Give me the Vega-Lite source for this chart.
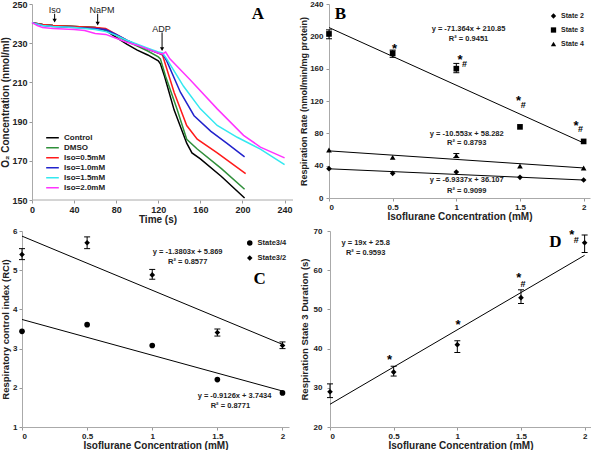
{
"$schema": "https://vega.github.io/schema/vega-lite/v6.json",
"padding": {"left": 0, "top": 0, "right": 0, "bottom": 0},
"background": "white",
"config": {
  "view": {"stroke": null},
  "font": "Liberation Sans",
  "axis": {"grid": false, "domainColor": "#aaa", "tickColor": "#999", "tickSize": 3, "labelFont": "Liberation Sans", "labelFontWeight": "bold", "labelFontSize": 8, "labelColor": "#222", "titleFont": "Liberation Sans", "titleFontWeight": "bold", "titleFontSize": 10, "titleColor": "#222", "labelPadding": 2, "titlePadding": 0, "labelOverlap": false, "labelSeparation": 0},
  "legend": {"labelFont": "Liberation Sans", "labelFontWeight": "bold", "labelColor": "#222", "padding": 0}
},
"datasets": {
  "a": [
    {"s":"Control","t":0,"v":240.5},{"s":"Control","t":10,"v":239.5},{"s":"Control","t":20,"v":239},{"s":"Control","t":40,"v":238.5},{"s":"Control","t":60,"v":238},{"s":"Control","t":70,"v":236.5},{"s":"Control","t":80,"v":233},{"s":"Control","t":90,"v":229.5},{"s":"Control","t":100,"v":226.5},{"s":"Control","t":110,"v":224},{"s":"Control","t":120,"v":221},{"s":"Control","t":122,"v":219.5},{"s":"Control","t":126,"v":213},{"s":"Control","t":135,"v":196},{"s":"Control","t":147,"v":179},{"s":"Control","t":152,"v":174},{"s":"Control","t":160,"v":171},{"s":"Control","t":180,"v":162},{"s":"Control","t":202,"v":151},
    {"s":"DMSO","t":0,"v":240.5},{"s":"DMSO","t":10,"v":239.5},{"s":"DMSO","t":20,"v":239},{"s":"DMSO","t":40,"v":238.5},{"s":"DMSO","t":60,"v":238},{"s":"DMSO","t":70,"v":237},{"s":"DMSO","t":80,"v":234},{"s":"DMSO","t":90,"v":231},{"s":"DMSO","t":100,"v":228.5},{"s":"DMSO","t":110,"v":226},{"s":"DMSO","t":120,"v":223},{"s":"DMSO","t":122,"v":222},{"s":"DMSO","t":127,"v":213},{"s":"DMSO","t":138,"v":196},{"s":"DMSO","t":147,"v":181},{"s":"DMSO","t":157,"v":176},{"s":"DMSO","t":180,"v":166},{"s":"DMSO","t":202,"v":155.5},
    {"s":"Iso=0.5mM","t":0,"v":240.5},{"s":"Iso=0.5mM","t":10,"v":239.5},{"s":"Iso=0.5mM","t":20,"v":239},{"s":"Iso=0.5mM","t":40,"v":238.5},{"s":"Iso=0.5mM","t":60,"v":238},{"s":"Iso=0.5mM","t":70,"v":237.5},{"s":"Iso=0.5mM","t":80,"v":234.5},{"s":"Iso=0.5mM","t":90,"v":231.5},{"s":"Iso=0.5mM","t":100,"v":229},{"s":"Iso=0.5mM","t":110,"v":227},{"s":"Iso=0.5mM","t":120,"v":225},{"s":"Iso=0.5mM","t":124,"v":224},{"s":"Iso=0.5mM","t":135,"v":205},{"s":"Iso=0.5mM","t":147,"v":188},{"s":"Iso=0.5mM","t":157,"v":181},{"s":"Iso=0.5mM","t":176,"v":174},{"s":"Iso=0.5mM","t":203,"v":163.5},
    {"s":"Iso=1.0mM","t":0,"v":240.5},{"s":"Iso=1.0mM","t":10,"v":239},{"s":"Iso=1.0mM","t":20,"v":238.5},{"s":"Iso=1.0mM","t":40,"v":238},{"s":"Iso=1.0mM","t":60,"v":237.5},{"s":"Iso=1.0mM","t":70,"v":237},{"s":"Iso=1.0mM","t":80,"v":234.5},{"s":"Iso=1.0mM","t":90,"v":231.5},{"s":"Iso=1.0mM","t":100,"v":229},{"s":"Iso=1.0mM","t":110,"v":227},{"s":"Iso=1.0mM","t":120,"v":225},{"s":"Iso=1.0mM","t":124,"v":224.5},{"s":"Iso=1.0mM","t":128,"v":221},{"s":"Iso=1.0mM","t":141,"v":205},{"s":"Iso=1.0mM","t":154,"v":193},{"s":"Iso=1.0mM","t":170,"v":185},{"s":"Iso=1.0mM","t":185,"v":179},{"s":"Iso=1.0mM","t":202,"v":172},
    {"s":"Iso=1.5mM","t":0,"v":240.5},{"s":"Iso=1.5mM","t":10,"v":239},{"s":"Iso=1.5mM","t":20,"v":238.5},{"s":"Iso=1.5mM","t":40,"v":238},{"s":"Iso=1.5mM","t":60,"v":237},{"s":"Iso=1.5mM","t":70,"v":236},{"s":"Iso=1.5mM","t":80,"v":234},{"s":"Iso=1.5mM","t":90,"v":231.5},{"s":"Iso=1.5mM","t":100,"v":229.5},{"s":"Iso=1.5mM","t":110,"v":227.5},{"s":"Iso=1.5mM","t":120,"v":225.5},{"s":"Iso=1.5mM","t":124,"v":225},{"s":"Iso=1.5mM","t":128,"v":222},{"s":"Iso=1.5mM","t":144,"v":208},{"s":"Iso=1.5mM","t":160,"v":196.5},{"s":"Iso=1.5mM","t":176,"v":188},{"s":"Iso=1.5mM","t":195,"v":182},{"s":"Iso=1.5mM","t":217,"v":176},{"s":"Iso=1.5mM","t":240,"v":168},
    {"s":"Iso=2.0mM","t":0,"v":240.5},{"s":"Iso=2.0mM","t":5,"v":239},{"s":"Iso=2.0mM","t":10,"v":238},{"s":"Iso=2.0mM","t":20,"v":237.5},{"s":"Iso=2.0mM","t":40,"v":237},{"s":"Iso=2.0mM","t":50,"v":236.5},{"s":"Iso=2.0mM","t":60,"v":235},{"s":"Iso=2.0mM","t":70,"v":234.5},{"s":"Iso=2.0mM","t":80,"v":232.5},{"s":"Iso=2.0mM","t":90,"v":230.5},{"s":"Iso=2.0mM","t":100,"v":229},{"s":"Iso=2.0mM","t":110,"v":227},{"s":"Iso=2.0mM","t":120,"v":225},{"s":"Iso=2.0mM","t":124,"v":224.5},{"s":"Iso=2.0mM","t":127,"v":225.5},{"s":"Iso=2.0mM","t":131,"v":222},{"s":"Iso=2.0mM","t":150,"v":211.5},{"s":"Iso=2.0mM","t":176,"v":196.5},{"s":"Iso=2.0mM","t":201,"v":183},{"s":"Iso=2.0mM","t":217,"v":177},{"s":"Iso=2.0mM","t":240,"v":171.5}
  ],
  "aAxisLine": [{"t0":0,"t1":248,"v":150}],
  "aArrow": [
    {"t":21.5,"v":245,"v2":241.5},
    {"t":62.4,"v":245,"v2":240},
    {"t":123.6,"v":235.5,"v2":227}
  ],
  "aNote": [
    {"t":21.5,"v":247,"label":"Iso"},
    {"t":66.5,"v":247,"label":"NaPM"},
    {"t":123,"v":237.3,"label":"ADP"}
  ],
  "aLetter": [{"t":214.6,"v":245,"label":"A"}],
  "b": [
    {"s":"State 2","x":0,"y":36.3},{"s":"State 2","x":0.5,"y":30.5},{"s":"State 2","x":1,"y":32.2},{"s":"State 2","x":1.5,"y":25.6},{"s":"State 2","x":2,"y":22.3},
    {"s":"State 3","x":0,"y":203},{"s":"State 3","x":0.5,"y":179},{"s":"State 3","x":1,"y":160},{"s":"State 3","x":1.5,"y":88},{"s":"State 3","x":2,"y":70},
    {"s":"State 4","x":0,"y":59.4},{"s":"State 4","x":0.5,"y":50.3},{"s":"State 4","x":1,"y":52.4},{"s":"State 4","x":1.5,"y":39.5},{"s":"State 4","x":2,"y":37.1}
  ],
  "bErr": [
    {"x":0,"lo":197,"hi":208},{"x":0.5,"lo":174,"hi":183},{"x":1,"lo":155,"hi":166.5},{"x":1,"lo":50,"hi":55}
  ],
  "bTrend": [
    {"s":"State 3","x":0,"y":210.85},{"s":"State 3","x":2,"y":68.12},
    {"s":"State 4","x":0,"y":58.28},{"s":"State 4","x":2,"y":37.18},
    {"s":"State 2","x":0,"y":36.11},{"s":"State 2","x":2,"y":22.24}
  ],
  "bEq": [
    {"x":1.096,"y":209,"label":"y = -71.364x + 210.85"},
    {"x":1.096,"y":196.7,"label":"R² = 0.9451"},
    {"x":1.082,"y":79,"label":"y = -10.553x + 58.282"},
    {"x":1.082,"y":67.5,"label":"R² = 0.8793"},
    {"x":1.082,"y":22.5,"label":"y = -6.9337x + 36.107"},
    {"x":1.082,"y":9,"label":"R² = 0.9099"}
  ],
  "bStar": [
    {"x":0.515,"y":184},{"x":1.03,"y":171},{"x":1.488,"y":119.5},{"x":1.94,"y":89.5}
  ],
  "bHash": [
    {"x":1.065,"y":165.5},{"x":1.525,"y":115.5},{"x":1.976,"y":85}
  ],
  "bLetter": [{"x":0.09,"y":227.5,"label":"B"}],
  "c": [
    {"s":"State3/2","x":0,"y":5.40},{"s":"State3/2","x":0.5,"y":5.70},{"s":"State3/2","x":1,"y":4.88},{"s":"State3/2","x":1.5,"y":3.41},{"s":"State3/2","x":2,"y":3.08},
    {"s":"State3/4","x":0,"y":3.44},{"s":"State3/4","x":0.5,"y":3.61},{"s":"State3/4","x":1,"y":3.08},{"s":"State3/4","x":1.5,"y":2.21},{"s":"State3/4","x":2,"y":1.87}
  ],
  "cErr": [
    {"x":0,"lo":5.27,"hi":5.55},{"x":0.5,"lo":5.55,"hi":5.85},{"x":1,"lo":4.77,"hi":5.02},{"x":1.5,"lo":3.32,"hi":3.50},{"x":2,"lo":3.00,"hi":3.17}
  ],
  "cTrend": [
    {"s":"State3/2","x":0,"y":5.869},{"s":"State3/2","x":2,"y":3.108},
    {"s":"State3/4","x":0,"y":3.743},{"s":"State3/4","x":2,"y":1.918}
  ],
  "cEq": [
    {"x":1.272,"y":5.46,"label":"y = -1.3803x + 5.869"},
    {"x":1.272,"y":5.21,"label":"R² = 0.8577"},
    {"x":1.632,"y":1.80,"label":"y = -0.9126x + 3.7434"},
    {"x":1.60,"y":1.53,"label":"R² = 0.8771"}
  ],
  "cLetter": [{"x":1.825,"y":4.77,"label":"C"}],
  "d": [
    {"x":0,"y":29,"lo":27.5,"hi":31},{"x":0.5,"y":34,"lo":33,"hi":35.5},{"x":1,"y":41,"lo":39,"hi":42},{"x":1.5,"y":53,"lo":51.5,"hi":55},{"x":2,"y":67,"lo":64.5,"hi":69}
  ],
  "dTrend": [{"x":0,"y":25.8},{"x":2,"y":63.8}],
  "dEq": [
    {"x":0.28,"y":66.9,"label":"y = 19x + 25.8"},
    {"x":0.28,"y":64.3,"label":"R² = 0.9593"}
  ],
  "dStar": [{"x":0.468,"y":37},{"x":1.006,"y":46},{"x":1.482,"y":58},{"x":1.9,"y":69}],
  "dHash": [{"x":1.515,"y":56.5},{"x":1.935,"y":67.8}],
  "dLetter": [{"x":1.77,"y":67.3,"label":"D"}]
},
"columns": 2,
"align": "none",
"bounds": "full",
"spacing": {"row": 3, "column": 5},
"resolve": {"scale": {"x": "independent", "y": "independent", "color": "independent", "shape": "independent"}, "legend": {"color": "independent", "shape": "independent"}},
"concat": [
    {"width": 271, "height": 196,
     "layer": [
      {"data": {"name": "a"}, "mark": {"type": "line", "strokeWidth": 1.5},
       "encoding": {
         "x": {"field": "t", "type": "quantitative", "scale": {"domain": [-9.5, 248], "nice": false, "zero": false}, "axis": {"values": [0,40,80,120,160,200,240], "tickCount": 20, "format": "d", "domain": false, "title": "Time (s)", "labelFontSize": 9, "labelOverlap": false}},
         "y": {"field": "v", "type": "quantitative", "scale": {"domain": [150, 250], "nice": false, "zero": false}, "axis": {"values": [150,170,190,210,230,250], "tickCount": 20, "format": "d", "offset": -10, "title": "O₂ Concentration (nmol/ml)", "titlePadding": 1, "labelFontSize": 9, "labelOverlap": false}},
         "color": {"field": "s", "type": "nominal",
           "scale": {"domain": ["Control","DMSO","Iso=0.5mM","Iso=1.0mM","Iso=1.5mM","Iso=2.0mM"], "range": ["#000000","#2f8f3a","#ff1a1a","#2222cc","#33e8f0","#ff33ff"]},
           "legend": {"title": null, "orient": "none", "legendX": 23, "legendY": 129, "symbolType": "stroke", "symbolSize": 160, "symbolStrokeWidth": 1.5, "labelFontSize": 8, "rowPadding": 0, "clipHeight": 9.4, "padding": 0}}
       }},
      {"data": {"name": "aAxisLine"}, "mark": {"type": "rule", "color": "#aaa", "strokeWidth": 1},
       "encoding": {"x": {"field": "t0", "type": "quantitative"}, "x2": {"field": "t1"}, "y": {"field": "v", "type": "quantitative"}}},
      {"data": {"name": "aArrow"}, "mark": {"type": "rule", "color": "#000", "strokeWidth": 1},
       "encoding": {"x": {"field": "t", "type": "quantitative"}, "y": {"field": "v", "type": "quantitative"}, "y2": {"field": "v2"}}},
      {"data": {"name": "aArrow"}, "mark": {"type": "point", "shape": "triangle-down", "filled": true, "color": "#000", "size": 18, "opacity": 1},
       "encoding": {"x": {"field": "t", "type": "quantitative"}, "y": {"field": "v2", "type": "quantitative"}}},
      {"data": {"name": "aNote"}, "mark": {"type": "text", "fontSize": 9, "color": "#222", "font": "Liberation Sans"},
       "encoding": {"x": {"field": "t", "type": "quantitative"}, "y": {"field": "v", "type": "quantitative"}, "text": {"field": "label"}}},
      {"data": {"name": "aLetter"}, "mark": {"type": "text", "fontSize": 17, "fontWeight": "bold", "font": "Liberation Serif", "color": "#000"},
       "encoding": {"x": {"field": "t", "type": "quantitative"}, "y": {"field": "v", "type": "quantitative"}, "text": {"field": "label"}}}
     ]},
    {"width": 261, "height": 194,
     "layer": [
      {"data": {"name": "bTrend"}, "mark": {"type": "line", "color": "#000", "strokeWidth": 1},
       "encoding": {
         "x": {"field": "x", "type": "quantitative", "scale": {"domain": [0, 2.05], "nice": false}, "axis": {"values": [0,0.5,1,1.5,2], "tickCount": 20, "format": "~g", "title": "Isoflurane Concentration (mM)", "labelOverlap": false}},
         "y": {"field": "y", "type": "quantitative", "scale": {"domain": [0, 240], "nice": false}, "axis": {"values": [0,40,80,120,160,200,240], "tickCount": 20, "format": "d", "title": "Respiration Rate (nmol/min/mg protein)", "titleFontSize": 9, "titleX": -21, "labelPadding": 3, "labelOverlap": false}},
         "detail": {"field": "s"}}},
      {"data": {"name": "bErr"}, "mark": {"type": "rule", "color": "#000", "strokeWidth": 1},
       "encoding": {"x": {"field": "x", "type": "quantitative"}, "y": {"field": "lo", "type": "quantitative"}, "y2": {"field": "hi"}}},
      {"data": {"name": "bErr"}, "mark": {"type": "tick", "orient": "horizontal", "color": "#000", "size": 6, "thickness": 1, "opacity": 1},
       "encoding": {"x": {"field": "x", "type": "quantitative"}, "y": {"field": "lo", "type": "quantitative"}}},
      {"data": {"name": "bErr"}, "mark": {"type": "tick", "orient": "horizontal", "color": "#000", "size": 6, "thickness": 1, "opacity": 1},
       "encoding": {"x": {"field": "x", "type": "quantitative"}, "y": {"field": "hi", "type": "quantitative"}}},
      {"data": {"name": "b"}, "mark": {"type": "point", "filled": true, "color": "#000", "opacity": 1, "size": 32},
       "encoding": {"x": {"field": "x", "type": "quantitative"}, "y": {"field": "y", "type": "quantitative"},
         "shape": {"field": "s", "type": "nominal", "scale": {"domain": ["State 2","State 3","State 4"], "range": ["diamond","square","triangle-up"]},
           "legend": {"title": null, "orient": "none", "legendX": 221, "legendY": 7, "labelFontSize": 7, "symbolSize": 28, "rowPadding": 4, "clipHeight": 10, "symbolFillColor": "#000", "symbolStrokeColor": "#000"}}}},
      {"data": {"name": "bEq"}, "mark": {"type": "text", "fontSize": 7.5, "fontWeight": "bold", "color": "#222"},
       "encoding": {"x": {"field": "x", "type": "quantitative"}, "y": {"field": "y", "type": "quantitative"}, "text": {"field": "label"}}},
      {"data": {"name": "bStar"}, "mark": {"type": "text", "fontSize": 13, "fontWeight": "bold", "color": "#000", "baseline": "middle"},
       "encoding": {"x": {"field": "x", "type": "quantitative"}, "y": {"field": "y", "type": "quantitative"}, "text": {"value": "*"}}},
      {"data": {"name": "bHash"}, "mark": {"type": "text", "fontSize": 9, "fontWeight": "bold", "color": "#000", "baseline": "middle"},
       "encoding": {"x": {"field": "x", "type": "quantitative"}, "y": {"field": "y", "type": "quantitative"}, "text": {"value": "#"}}},
      {"data": {"name": "bLetter"}, "mark": {"type": "text", "fontSize": 17, "fontWeight": "bold", "font": "Liberation Serif", "color": "#000"},
       "encoding": {"x": {"field": "x", "type": "quantitative"}, "y": {"field": "y", "type": "quantitative"}, "text": {"field": "label"}}}
     ]},
    {"width": 267, "height": 196,
     "layer": [
      {"data": {"name": "cTrend"}, "mark": {"type": "line", "color": "#000", "strokeWidth": 1},
       "encoding": {
         "x": {"field": "x", "type": "quantitative", "scale": {"domain": [0, 2.05], "nice": false}, "axis": {"values": [0,0.5,1,1.5,2], "tickCount": 20, "format": "~g", "title": "Isoflurane Concentration (mM)", "labelOverlap": false}},
         "y": {"field": "y", "type": "quantitative", "scale": {"domain": [1, 6], "nice": false, "zero": false}, "axis": {"values": [1,2,3,4,5,6], "tickCount": 20, "format": "d", "title": "Respiratory control index (RCI)", "titleFontSize": 9.5, "titleX": -12, "labelOverlap": false}},
         "detail": {"field": "s"}}},
      {"data": {"name": "cErr"}, "mark": {"type": "rule", "color": "#000", "strokeWidth": 1},
       "encoding": {"x": {"field": "x", "type": "quantitative"}, "y": {"field": "lo", "type": "quantitative"}, "y2": {"field": "hi"}}},
      {"data": {"name": "cErr"}, "mark": {"type": "tick", "orient": "horizontal", "color": "#000", "size": 6, "thickness": 1, "opacity": 1},
       "encoding": {"x": {"field": "x", "type": "quantitative"}, "y": {"field": "lo", "type": "quantitative"}}},
      {"data": {"name": "cErr"}, "mark": {"type": "tick", "orient": "horizontal", "color": "#000", "size": 6, "thickness": 1, "opacity": 1},
       "encoding": {"x": {"field": "x", "type": "quantitative"}, "y": {"field": "hi", "type": "quantitative"}}},
      {"data": {"name": "c"}, "mark": {"type": "point", "filled": true, "color": "#000", "opacity": 1, "size": 32},
       "encoding": {"x": {"field": "x", "type": "quantitative"}, "y": {"field": "y", "type": "quantitative"},
         "shape": {"field": "s", "type": "nominal", "scale": {"domain": ["State3/4","State3/2"], "range": ["circle","diamond"]},
           "legend": {"title": null, "orient": "none", "legendX": 224, "legendY": 7, "labelFontSize": 7.5, "symbolSize": 30, "rowPadding": 5, "clipHeight": 10, "symbolFillColor": "#000", "symbolStrokeColor": "#000"}}}},
      {"data": {"name": "cEq"}, "mark": {"type": "text", "fontSize": 7.5, "fontWeight": "bold", "color": "#222"},
       "encoding": {"x": {"field": "x", "type": "quantitative"}, "y": {"field": "y", "type": "quantitative"}, "text": {"field": "label"}}},
      {"data": {"name": "cLetter"}, "mark": {"type": "text", "fontSize": 17, "fontWeight": "bold", "font": "Liberation Serif", "color": "#000"},
       "encoding": {"x": {"field": "x", "type": "quantitative"}, "y": {"field": "y", "type": "quantitative"}, "text": {"field": "label"}}}
     ]},
    {"width": 261, "height": 196,
     "layer": [
      {"data": {"name": "dTrend"}, "mark": {"type": "line", "color": "#000", "strokeWidth": 1},
       "encoding": {
         "x": {"field": "x", "type": "quantitative", "scale": {"domain": [0, 2.05], "nice": false}, "axis": {"values": [0,0.5,1,1.5,2], "tickCount": 20, "format": "~g", "title": "Isoflurane Concentration (mM)", "labelOverlap": false}},
         "y": {"field": "y", "type": "quantitative", "scale": {"domain": [20, 70], "nice": false, "zero": false}, "axis": {"values": [20,30,40,50,60,70], "tickCount": 20, "format": "d", "title": "Respiration State 3 Duration (s)", "titleFontSize": 9.5, "titleX": -21, "labelPadding": 5, "labelOverlap": false}}}},
      {"data": {"name": "d"}, "mark": {"type": "rule", "color": "#000", "strokeWidth": 1},
       "encoding": {"x": {"field": "x", "type": "quantitative"}, "y": {"field": "lo", "type": "quantitative"}, "y2": {"field": "hi"}}},
      {"data": {"name": "d"}, "mark": {"type": "tick", "orient": "horizontal", "color": "#000", "size": 6, "thickness": 1, "opacity": 1},
       "encoding": {"x": {"field": "x", "type": "quantitative"}, "y": {"field": "lo", "type": "quantitative"}}},
      {"data": {"name": "d"}, "mark": {"type": "tick", "orient": "horizontal", "color": "#000", "size": 6, "thickness": 1, "opacity": 1},
       "encoding": {"x": {"field": "x", "type": "quantitative"}, "y": {"field": "hi", "type": "quantitative"}}},
      {"data": {"name": "d"}, "mark": {"type": "point", "filled": true, "color": "#000", "opacity": 1, "size": 32, "shape": "diamond"},
       "encoding": {"x": {"field": "x", "type": "quantitative"}, "y": {"field": "y", "type": "quantitative"}}},
      {"data": {"name": "dEq"}, "mark": {"type": "text", "fontSize": 7.5, "fontWeight": "bold", "color": "#222"},
       "encoding": {"x": {"field": "x", "type": "quantitative"}, "y": {"field": "y", "type": "quantitative"}, "text": {"field": "label"}}},
      {"data": {"name": "dStar"}, "mark": {"type": "text", "fontSize": 13, "fontWeight": "bold", "color": "#000", "baseline": "middle"},
       "encoding": {"x": {"field": "x", "type": "quantitative"}, "y": {"field": "y", "type": "quantitative"}, "text": {"value": "*"}}},
      {"data": {"name": "dHash"}, "mark": {"type": "text", "fontSize": 9, "fontWeight": "bold", "color": "#000", "baseline": "middle"},
       "encoding": {"x": {"field": "x", "type": "quantitative"}, "y": {"field": "y", "type": "quantitative"}, "text": {"value": "#"}}},
      {"data": {"name": "dLetter"}, "mark": {"type": "text", "fontSize": 17, "fontWeight": "bold", "font": "Liberation Serif", "color": "#000"},
       "encoding": {"x": {"field": "x", "type": "quantitative"}, "y": {"field": "y", "type": "quantitative"}, "text": {"field": "label"}}}
     ]}
]
}
